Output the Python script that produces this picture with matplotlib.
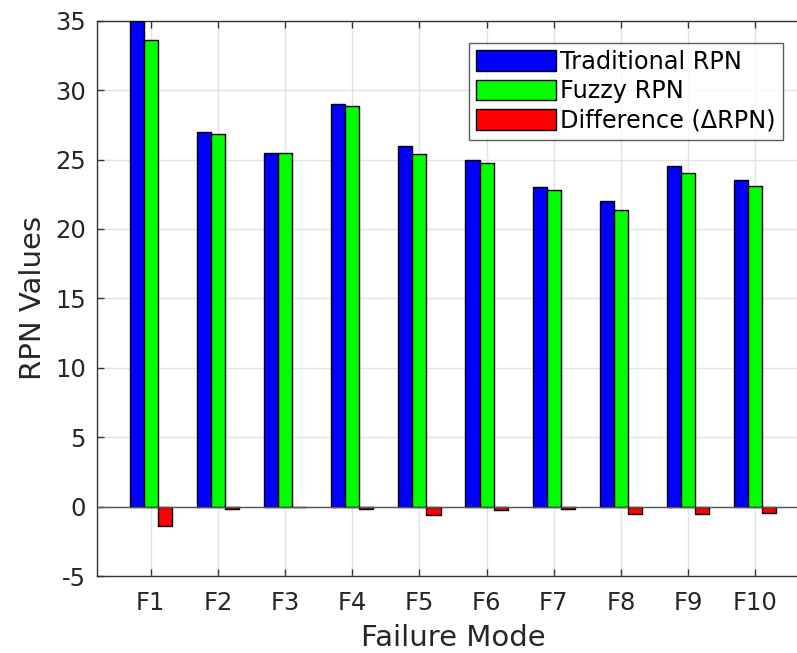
import numpy as np
import matplotlib
matplotlib.use('Agg')
import matplotlib.pyplot as plt

plt.rcParams['axes.unicode_minus'] = False

# Failure modes and RPN values
modes = ['F1', 'F2', 'F3', 'F4', 'F5', 'F6', 'F7', 'F8', 'F9', 'F10']
traditional = [35.0, 27.0, 25.5, 29.0, 26.0, 25.0, 23.0, 22.0, 24.5, 23.5]
fuzzy = [33.6, 26.85, 25.5, 28.85, 25.4, 24.75, 22.8, 21.4, 24.0, 23.1]
difference = [-1.4, -0.15, 0.0, -0.15, -0.6, -0.25, -0.2, -0.55, -0.55, -0.45]

series_names = ['Traditional RPN', 'Fuzzy RPN', 'Difference (\u0394RPN)']
colors = ['#0000ff', '#00ff00', '#ff0000']

x = np.arange(1, len(modes) + 1)
w = 0.21

fig = plt.figure(figsize=(7.97, 6.53), dpi=100)
# axes runs past the right edge of the figure, like the cropped original
ax = fig.add_axes([97/797, 77/653, 712/797, 555.3/653])

for i, (vals, name, c) in enumerate(zip([traditional, fuzzy, difference], series_names, colors)):
    ax.bar(x + (i - 1) * w, vals, width=w, color=c, edgecolor='black',
           linewidth=1.0, label=name, zorder=3)

ax.axhline(0, color='#555555', linewidth=1.0, zorder=4)

ax.set_xlim(0.2, 10.8)
ax.set_ylim(-5, 35)
ax.set_xticks(x)
ax.set_xticklabels(modes)
ax.set_yticks(np.arange(-5, 36, 5))

ax.grid(True, color='#e3e3e3', linewidth=1.0, zorder=0)
ax.tick_params(direction='in', length=5, width=1, colors='#333333',
               labelcolor='#262626', labelsize=17.5, top=True, right=True)
ax.tick_params(axis='x', pad=11)
ax.tick_params(axis='y', pad=8)
for s in ax.spines.values():
    s.set_color('#333333')
    s.set_linewidth(1.0)

ax.set_xlabel('Failure Mode', fontsize=21, color='#262626', labelpad=6)
ax.set_ylabel('RPN Values', fontsize=21, color='#262626', labelpad=6)

leg = ax.legend(loc='upper left', bbox_to_anchor=(372/712, 1 - 22/555.3),
                fontsize=17.3, frameon=True, fancybox=False, edgecolor='#333333',
                handlelength=3.3, handleheight=0.95, handletextpad=0.2,
                borderpad=0.3, labelspacing=0.22, borderaxespad=0)
leg.get_frame().set_linewidth(1.0)

fig.savefig('out.png', dpi=100)
